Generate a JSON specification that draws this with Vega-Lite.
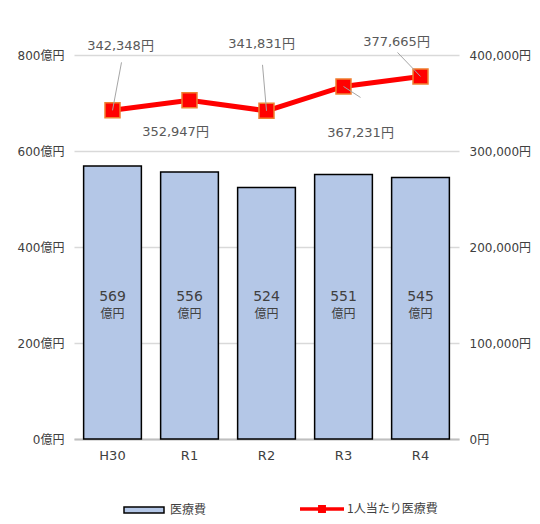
{
  "$schema": "https://vega.github.io/schema/vega-lite/v6.json",
  "width": 385,
  "height": 384,
  "autosize": {"type": "none"},
  "padding": {"left": 74, "top": 55, "right": 81, "bottom": 85},
  "background": "#ffffff",
  "data": {
    "values": [
      {"year": "H30", "cost": 569, "per": 342348},
      {"year": "R1", "cost": 556, "per": 352947},
      {"year": "R2", "cost": 524, "per": 341831},
      {"year": "R3", "cost": 551, "per": 367231},
      {"year": "R4", "cost": 545, "per": 377665}
    ]
  },
  "config": {
    "view": {"stroke": null},
    "font": "DejaVu Sans, Noto Sans CJK JP",
    "axis": {
      "labelFont": "DejaVu Sans, Noto Sans CJK JP",
      "labelColor": "#404040",
      "labelFontSize": 12,
      "ticks": false,
      "domain": false,
      "title": null
    },
    "legend": {
      "labelFont": "Noto Sans CJK JP",
      "labelColor": "#404040",
      "labelFontSize": 12,
      "padding": 0
    }
  },
  "encoding": {
    "x": {
      "field": "year",
      "type": "nominal",
      "sort": null,
      "scale": {"paddingInner": 0.25, "paddingOuter": 0.125},
      "axis": {
        "labelAngle": 0,
        "labelFontSize": 13,
        "labelPadding": 10,
        "domain": true,
        "domainColor": "#bfbfbf",
        "domainWidth": 2
      }
    }
  },
  "layer": [
    {
      "layer": [
        {
          "mark": {"type": "bar", "stroke": "#000000", "strokeWidth": 1.5},
          "encoding": {
            "y": {
              "field": "cost",
              "type": "quantitative",
              "scale": {"domain": [0, 800]},
              "axis": {
                "values": [0, 200, 400, 600, 800],
                "labelExpr": "datum.value + '億円'",
                "labelPadding": 10,
                "grid": true,
                "gridColor": "#d9d9d9",
                "gridWidth": 1.5
              }
            },
            "fill": {
              "datum": "医療費",
              "scale": {"range": ["#b4c7e7"]},
              "legend": {
                "orient": "none",
                "legendX": 49,
                "legendY": 434,
                "title": null,
                "symbolType": "M-1,-0.15L1,-0.15L1,0.15L-1,0.15Z",
                "symbolSize": 1600,
                "symbolStrokeColor": "#000000",
                "symbolStrokeWidth": 1.5,
                "symbolOpacity": 1,
                "labelOffset": 5
              }
            }
          }
        },
        {
          "mark": {"type": "text", "font": "DejaVu Sans", "fontSize": 14, "color": "#404040", "dy": 2},
          "encoding": {
            "y": {"datum": 300, "type": "quantitative"},
            "text": {"field": "cost", "type": "quantitative"}
          }
        },
        {
          "mark": {"type": "text", "font": "Noto Sans CJK JP", "fontSize": 12, "color": "#404040", "dy": 19},
          "encoding": {
            "y": {"datum": 300, "type": "quantitative"},
            "text": {"value": "億円"}
          }
        }
      ]
    },
    {
      "encoding": {
        "y": {
          "field": "per",
          "type": "quantitative",
          "scale": {"domain": [0, 400000]},
          "axis": {
            "orient": "right",
            "values": [0, 100000, 200000, 300000, 400000],
            "labelExpr": "format(datum.value, ',') + '円'",
            "labelPadding": 10,
            "grid": false
          }
        }
      },
      "layer": [
        {
          "mark": {"type": "line", "color": "#ff0000", "strokeWidth": 5},
          "encoding": {
            "stroke": {
              "datum": "1人当たり医療費",
              "scale": {"range": ["#ff0000"]},
              "legend": {
                "orient": "none",
                "legendX": 226,
                "legendY": 432,
                "title": null,
                "symbolType": "M-1,-0.08L-0.18,-0.08L-0.18,-0.18L0.18,-0.18L0.18,-0.08L1,-0.08L1,0.08L0.18,0.08L0.18,0.18L-0.18,0.18L-0.18,0.08L-1,0.08Z",
                "symbolSize": 1936,
                "symbolFillColor": "#ff0000",
                "symbolStrokeWidth": 0,
                "labelOffset": 3
              }
            }
          }
        },
        {
          "mark": {"type": "point", "shape": "square", "size": 225, "filled": true, "fill": "#ff0000", "stroke": "#f08030", "strokeWidth": 1.5, "opacity": 1},
          "encoding": {}
        },
        {
          "transform": [{"filter": "datum.year == 'H30'"}],
          "layer": [
            {"mark": {"type": "rule", "color": "#a6a6a6", "strokeWidth": 1, "x2Offset": 9, "y2Offset": -48},
             "encoding": {"x2": {"field": "year"}, "y2": {"field": "per"}}},
            {"mark": {"type": "text", "fontSize": 13, "color": "#595959", "dx": 8, "dy": -64,
                      "text": {"expr": "format(datum.per, ',') + '円'"}},
             "encoding": {}}
          ]
        },
        {
          "transform": [{"filter": "datum.year == 'R1'"}],
          "mark": {"type": "text", "fontSize": 13, "color": "#595959", "dx": -14, "dy": 32,
                   "text": {"expr": "format(datum.per, ',') + '円'"}},
          "encoding": {}
        },
        {
          "transform": [{"filter": "datum.year == 'R2'"}],
          "layer": [
            {"mark": {"type": "rule", "color": "#a6a6a6", "strokeWidth": 1, "x2Offset": -4, "y2Offset": -46},
             "encoding": {"x2": {"field": "year"}, "y2": {"field": "per"}}},
            {"mark": {"type": "text", "fontSize": 13, "color": "#595959", "dx": -5, "dy": -67,
                      "text": {"expr": "format(datum.per, ',') + '円'"}},
             "encoding": {}}
          ]
        },
        {
          "transform": [{"filter": "datum.year == 'R3'"}],
          "layer": [
            {"mark": {"type": "rule", "color": "#a6a6a6", "strokeWidth": 1, "x2Offset": 17, "y2Offset": 11},
             "encoding": {"x2": {"field": "year"}, "y2": {"field": "per"}}},
            {"mark": {"type": "text", "fontSize": 13, "color": "#595959", "dx": 17, "dy": 47,
                      "text": {"expr": "format(datum.per, ',') + '円'"}},
             "encoding": {}}
          ]
        },
        {
          "transform": [{"filter": "datum.year == 'R4'"}],
          "layer": [
            {"mark": {"type": "rule", "color": "#a6a6a6", "strokeWidth": 1, "x2Offset": -23, "y2Offset": -24},
             "encoding": {"x2": {"field": "year"}, "y2": {"field": "per"}}},
            {"mark": {"type": "text", "fontSize": 13, "color": "#595959", "dx": -24, "dy": -34,
                      "text": {"expr": "format(datum.per, ',') + '円'"}},
             "encoding": {}}
          ]
        }
      ]
    }
  ],
  "resolve": {"scale": {"y": "independent", "fill": "independent", "stroke": "independent"}}
}
